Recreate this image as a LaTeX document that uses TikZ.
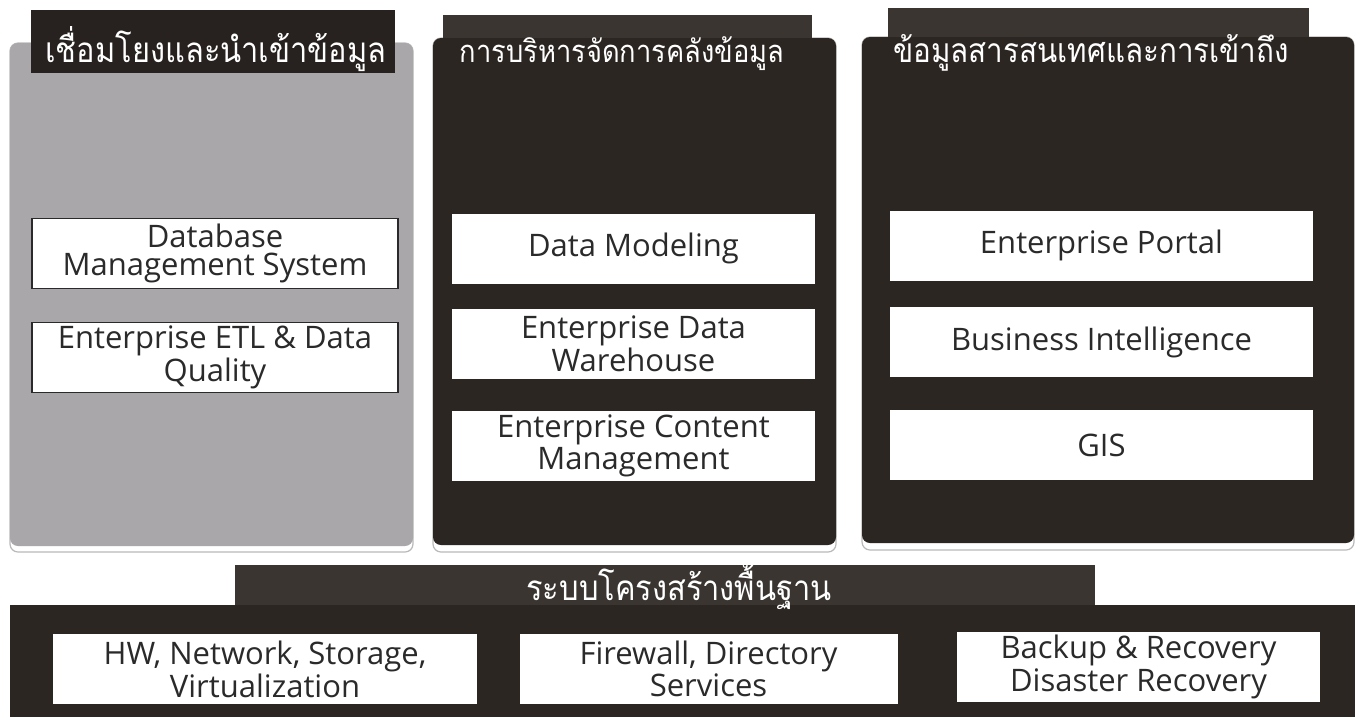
\documentclass[tikz,border=0pt]{standalone}
\usepackage{fontspec}
\setmainfont{Open Sans}
\newfontfamily\thaifont[Script=Thai,FakeStretch=0.88]{Loma}
\definecolor{panelDark}{HTML}{2C2622}
\definecolor{tabDark}{HTML}{3A3531}
\definecolor{tabBlack}{HTML}{27221F}
\definecolor{panelGray}{HTML}{A9A7A9}
\definecolor{boxText}{HTML}{2A2A2A}
\tikzset{
  panel/.style={rounded corners=4pt},
  shade line/.style={draw=gray!55, fill=white, line width=0.6pt, rounded corners=4pt},
  title/.style={text=white, anchor=base, inner sep=0pt, font=\thaifont\fontsize{#1}{20}\selectfont},
  title/.default=17,
  item/.style={fill=white, text=boxText, align=center, inner sep=0pt,
               font=\fontsize{15.5}{14}\selectfont, minimum height=35pt},
  framed item/.style={item, draw=boxText, line width=0.6pt}
}

\begin{document}
\begin{tikzpicture}[x=0.5pt, y=-0.5pt]
  \useasboundingbox (0,0) rectangle (1363,720);
  \fill[white] (0,0) rectangle (1363,720);

  \draw[shade line] (10,43) rectangle (413,552);
  \draw[shade line] (433,38) rectangle (836,552);
  \draw[shade line] (862,37) rectangle (1354,550);

  \fill[panelGray, panel] (10,43) rectangle (413,546);
  \fill[tabDark] (443,15) rectangle (812,60);
  \fill[panelDark, panel] (433,38) rectangle (836,545);
  \fill[tabDark] (888,8) rectangle (1309,60);
  \fill[panelDark, panel] (862,37) rectangle (1354,543);
  \fill[tabDark] (888,8) rectangle (1309,37);
  \fill[tabDark] (443,15) rectangle (812,38);
  \fill[tabBlack] (31,10) rectangle (395,73);

  \fill[tabDark] (235,565) rectangle (1095,606);
  \fill[panelDark] (10,605) rectangle (1355,717);

  \node[title=17.5] (linkTitle) at (216,62) {เชื่อมโยงและนำเข้าข้อมูล};
  \node[title=15.5] (storeTitle) at (622,62) {การบริหารจัดการคลังข้อมูล};
  \node[title=16.8] (infoTitle) at (1091,62) {ข้อมูลสารสนเทศและการเข้าถึง};
  \node[title=17.5] (infraTitle) at (679,600) {ระบบโครงสร้างพื้นฐาน};

  \node[framed item, minimum width=183pt] (dbms) at (215,253.5) {Database\\Management System};
  \node[framed item, minimum width=183pt] (etl) at (215,357.5) {Enterprise ETL \& Data\\Quality};

  \node[item, minimum width=181.5pt] (model) at (633.5,248.5) {Data Modeling};
  \node[item, minimum width=181.5pt] (edw) at (633.5,343.5) {Enterprise Data\\Warehouse};
  \node[item, minimum width=181.5pt] (ecm) at (633.5,446) {Enterprise Content\\Management};

  \node[item, minimum width=211.5pt] (portal) at (1101.5,245.5) {Enterprise Portal};
  \node[item, minimum width=211.5pt] (bi) at (1101.5,342) {Business Intelligence};
  \node[item, minimum width=211.5pt] (gis) at (1101.5,445) {GIS};

  \node[item, minimum width=212pt] (hw) at (265,669) {HW, Network, Storage,\\Virtualization};
  \node[item, minimum width=189pt] (fw) at (708.5,669) {Firewall, Directory\\Services};
  \node[item, minimum width=181.5pt] (backup) at (1138.5,667) {Backup \& Recovery\\Disaster Recovery};
\end{tikzpicture}
\end{document}
